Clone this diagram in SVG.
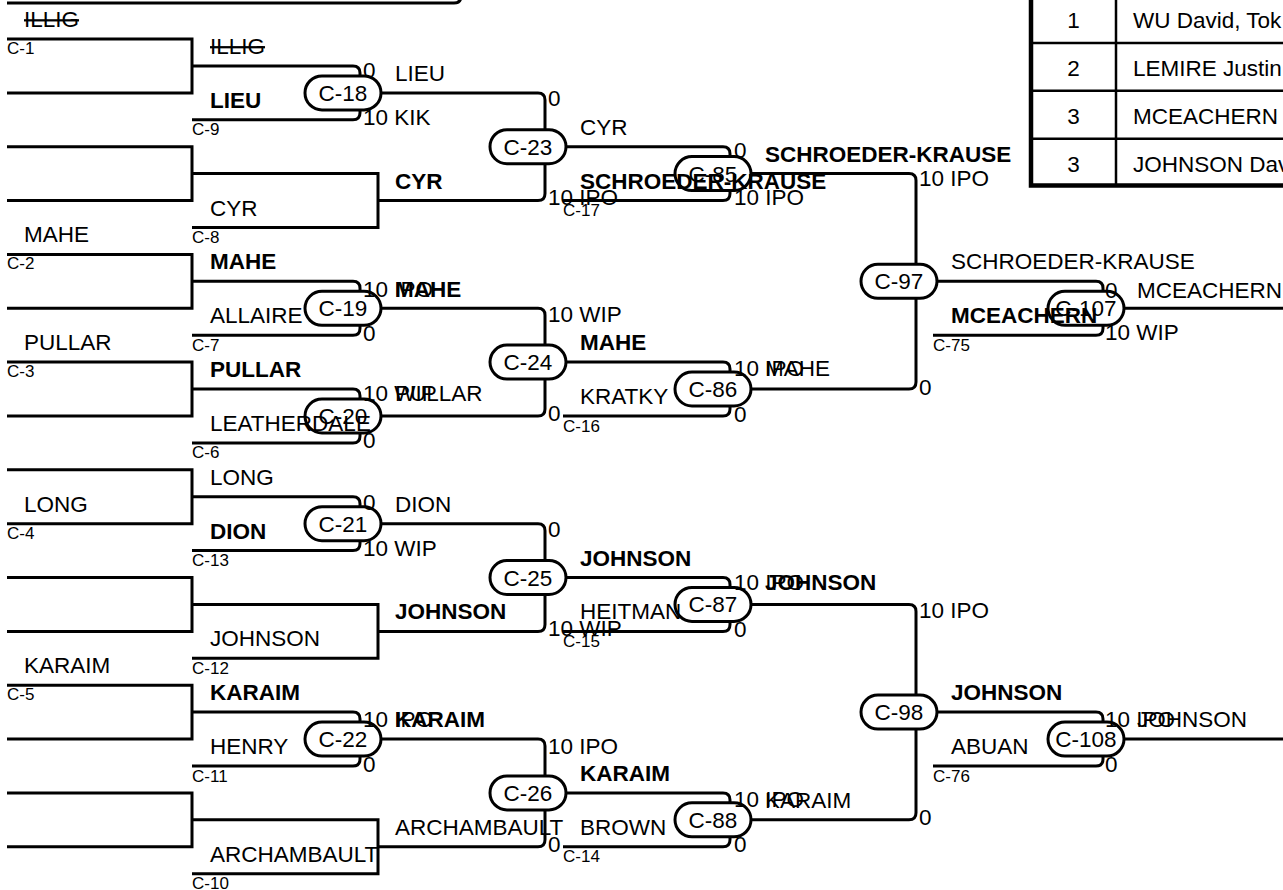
<svg xmlns="http://www.w3.org/2000/svg" width="1283" height="890" viewBox="0 0 1283 890">
<style>
.ln{fill:none;stroke:#000;stroke-width:3}
.tb{fill:none;stroke:#000;stroke-width:2.5}
.tbk{fill:none;stroke:#000;stroke-width:4.5}
.pill rect{fill:#fff;stroke:#000;stroke-width:3}
text{font-family:"Liberation Sans",Arial,sans-serif;font-size:22.5px;fill:#000}
.b{font-weight:bold}
.s{font-size:17px}
.m{text-anchor:middle}
.st{text-decoration:line-through}
</style>
<rect width="1283" height="890" fill="#fff"/>
<g id="connectors">
<path class="ln" d="M7,3 H454 Q461,3 461,-4 V-20"/>
<path class="ln" d="M7,39 H192 V92.9 H7"/>
<path class="ln" d="M7,146.7 H192 V200.6 H7"/>
<path class="ln" d="M7,254.4 H192 V308.3 H7"/>
<path class="ln" d="M7,362.1 H192 V416 H7"/>
<path class="ln" d="M7,469.8 H192 V523.7 H7"/>
<path class="ln" d="M7,577.5 H192 V631.4 H7"/>
<path class="ln" d="M7,685.2 H192 V739.1 H7"/>
<path class="ln" d="M7,792.9 H192 V846.8 H7"/>
<path class="ln" d="M192,65.9 H353 Q360,65.9 360,72.9 V112.8 Q360,119.8 353,119.8 H192"/>
<path class="ln" d="M192,173.6 H378 V227.5 H192"/>
<path class="ln" d="M192,281.3 H353 Q360,281.3 360,288.3 V328.2 Q360,335.2 353,335.2 H192"/>
<path class="ln" d="M192,389 H353 Q360,389 360,396 V435.9 Q360,442.9 353,442.9 H192"/>
<path class="ln" d="M192,496.7 H353 Q360,496.7 360,503.7 V543.6 Q360,550.6 353,550.6 H192"/>
<path class="ln" d="M192,604.4 H378 V658.3 H192"/>
<path class="ln" d="M192,712.1 H353 Q360,712.1 360,719.1 V759 Q360,766 353,766 H192"/>
<path class="ln" d="M192,819.8 H378 V873.7 H192"/>
<path class="ln" d="M360,92.9 H538 Q545,92.9 545,99.9 V193.6 Q545,200.6 538,200.6 H378"/>
<path class="ln" d="M360,308.3 H538 Q545,308.3 545,315.3 V409 Q545,416 538,416 H360"/>
<path class="ln" d="M360,523.7 H538 Q545,523.7 545,530.7 V624.4 Q545,631.4 538,631.4 H378"/>
<path class="ln" d="M360,739.1 H538 Q545,739.1 545,746.1 V839.8 Q545,846.8 538,846.8 H378"/>
<path class="ln" d="M545,146.7 H723 Q730,146.7 730,153.7 V193.6 Q730,200.6 723,200.6 H563"/>
<path class="ln" d="M545,362.1 H723 Q730,362.1 730,369.1 V409 Q730,416 723,416 H563"/>
<path class="ln" d="M545,577.5 H723 Q730,577.5 730,584.5 V624.4 Q730,631.4 723,631.4 H563"/>
<path class="ln" d="M545,792.9 H723 Q730,792.9 730,799.9 V839.8 Q730,846.8 723,846.8 H563"/>
<path class="ln" d="M730,173.6 H909 Q916,173.6 916,180.6 V382 Q916,389 909,389 H730"/>
<path class="ln" d="M730,604.4 H909 Q916,604.4 916,611.4 V812.8 Q916,819.8 909,819.8 H730"/>
<path class="ln" d="M916,281.3 H1096 Q1103,281.3 1103,288.3 V328.2 Q1103,335.2 1096,335.2 H933"/>
<path class="ln" d="M916,712.1 H1096 Q1103,712.1 1103,719.1 V759 Q1103,766 1096,766 H933"/>
<path class="ln" d="M1103,308.3 H1283"/>
<path class="ln" d="M1103,739.1 H1283"/>
</g>
<g id="C-18" class="pill"><rect x="305" y="75.9" width="76" height="34" rx="17"/><text class="m" x="343" y="100.9">C-18</text></g>
<g id="C-19" class="pill"><rect x="305" y="291.3" width="76" height="34" rx="17"/><text class="m" x="343" y="316.3">C-19</text></g>
<g id="C-20" class="pill"><rect x="305" y="399" width="76" height="34" rx="17"/><text class="m" x="343" y="424">C-20</text></g>
<g id="C-21" class="pill"><rect x="305" y="506.7" width="76" height="34" rx="17"/><text class="m" x="343" y="531.7">C-21</text></g>
<g id="C-22" class="pill"><rect x="305" y="722.1" width="76" height="34" rx="17"/><text class="m" x="343" y="747.1">C-22</text></g>
<g id="C-23" class="pill"><rect x="490" y="129.7" width="76" height="34" rx="17"/><text class="m" x="528" y="154.7">C-23</text></g>
<g id="C-24" class="pill"><rect x="490" y="345.1" width="76" height="34" rx="17"/><text class="m" x="528" y="370.1">C-24</text></g>
<g id="C-25" class="pill"><rect x="490" y="560.5" width="76" height="34" rx="17"/><text class="m" x="528" y="585.5">C-25</text></g>
<g id="C-26" class="pill"><rect x="490" y="775.9" width="76" height="34" rx="17"/><text class="m" x="528" y="800.9">C-26</text></g>
<g id="C-85" class="pill"><rect x="675" y="156.6" width="76" height="34" rx="17"/><text class="m" x="713" y="181.6">C-85</text></g>
<g id="C-86" class="pill"><rect x="675" y="372" width="76" height="34" rx="17"/><text class="m" x="713" y="397">C-86</text></g>
<g id="C-87" class="pill"><rect x="675" y="587.4" width="76" height="34" rx="17"/><text class="m" x="713" y="612.4">C-87</text></g>
<g id="C-88" class="pill"><rect x="675" y="802.8" width="76" height="34" rx="17"/><text class="m" x="713" y="827.8">C-88</text></g>
<g id="C-97" class="pill"><rect x="861" y="264.3" width="76" height="34" rx="17"/><text class="m" x="899" y="289.3">C-97</text></g>
<g id="C-98" class="pill"><rect x="861" y="695.1" width="76" height="34" rx="17"/><text class="m" x="899" y="720.1">C-98</text></g>
<g id="C-107" class="pill"><rect x="1048" y="291.3" width="76" height="34" rx="17"/><text class="m" x="1086" y="316.3">C-107</text></g>
<g id="C-108" class="pill"><rect x="1048" y="722.1" width="76" height="34" rx="17"/><text class="m" x="1086" y="747.1">C-108</text></g>
<g id="table">
<path class="tb" d="M1031,43 H1290 M1031,90.7 H1290 M1031,138.7 H1290 M1116,-10 V185.5"/>
<path class="tbk" d="M1031,-10 V185.5 H1290"/>
<text class="m" x="1073.5" y="27.5">1</text>
<text class="m" x="1073.5" y="76">2</text>
<text class="m" x="1073.5" y="124">3</text>
<text class="m" x="1073.5" y="171.5">3</text>
<text x="1133" y="27.5">WU David, Tok</text>
<text x="1133" y="76">LEMIRE Justin</text>
<text x="1133" y="124">MCEACHERN</text>
<text x="1133" y="171.5">JOHNSON Dav</text>
</g>
<g id="entrants">
<text class="st" x="24" y="27">ILLIG</text>
<text x="24" y="242.4">MAHE</text>
<text x="24" y="350.1">PULLAR</text>
<text x="24" y="511.7">LONG</text>
<text x="24" y="673.2">KARAIM</text>
<text class="s" x="7" y="54">C-1</text>
<text class="s" x="7" y="269.4">C-2</text>
<text class="s" x="7" y="377.1">C-3</text>
<text class="s" x="7" y="538.7">C-4</text>
<text class="s" x="7" y="700.2">C-5</text>
<text class="st" x="210" y="53.9">ILLIG</text>
<text class="b" x="210" y="107.8">LIEU</text>
<text x="210" y="215.5">CYR</text>
<text class="b" x="210" y="269.3">MAHE</text>
<text x="210" y="323.2">ALLAIRE</text>
<text class="b" x="210" y="377">PULLAR</text>
<text x="210" y="430.9">LEATHERDALE</text>
<text x="210" y="484.7">LONG</text>
<text class="b" x="210" y="538.6">DION</text>
<text x="210" y="646.3">JOHNSON</text>
<text class="b" x="210" y="700.1">KARAIM</text>
<text x="210" y="754">HENRY</text>
<text x="210" y="861.7">ARCHAMBAULT</text>
<text class="s" x="192" y="135.3">C-9</text>
<text class="s" x="192" y="243">C-8</text>
<text class="s" x="192" y="350.7">C-7</text>
<text class="s" x="192" y="458.4">C-6</text>
<text class="s" x="192" y="566.1">C-13</text>
<text class="s" x="192" y="673.8">C-12</text>
<text class="s" x="192" y="781.5">C-11</text>
<text class="s" x="192" y="888.5">C-10</text>
<text x="395" y="80.9">LIEU</text>
<text class="b" x="395" y="188.6">CYR</text>
<text class="b" x="395" y="297">MAHE</text>
<text x="395" y="401">PULLAR</text>
<text x="395" y="511.7">DION</text>
<text class="b" x="395" y="619.4">JOHNSON</text>
<text class="b" x="395" y="727">KARAIM</text>
<text x="395" y="834.8">ARCHAMBAULT</text>
<text x="580" y="134.7">CYR</text>
<text class="b" x="580" y="188.6">SCHROEDER-KRAUSE</text>
<text class="b" x="580" y="350.1">MAHE</text>
<text x="580" y="404">KRATKY</text>
<text class="b" x="580" y="565.5">JOHNSON</text>
<text x="580" y="619.4">HEITMAN</text>
<text class="b" x="580" y="780.9">KARAIM</text>
<text x="580" y="834.8">BROWN</text>
<text class="s" x="563" y="216">C-17</text>
<text class="s" x="563" y="431.5">C-16</text>
<text class="s" x="563" y="646.9">C-15</text>
<text class="s" x="563" y="862.3">C-14</text>
<text class="b" x="765" y="161.6">SCHROEDER-KRAUSE</text>
<text x="765" y="376">MAHE</text>
<text class="b" x="765" y="590">JOHNSON</text>
<text x="765" y="808">KARAIM</text>
<text x="951" y="269.3">SCHROEDER-KRAUSE</text>
<text class="b" x="951" y="323.2">MCEACHERN</text>
<text class="b" x="951" y="700.1">JOHNSON</text>
<text x="951" y="754">ABUAN</text>
<text class="s" x="933" y="350.7">C-75</text>
<text class="s" x="933" y="781.5">C-76</text>
<text x="1137" y="298">MCEACHERN</text>
<text x="1137" y="727">JOHNSON</text>
</g>
<g id="scores">
<text x="363" y="78">0</text><text x="363" y="125">10 KIK</text>
<text x="363" y="297">10 IPO</text><text x="363" y="341">0</text>
<text x="363" y="401">10 WIP</text><text x="363" y="448">0</text>
<text x="363" y="510">0</text><text x="363" y="556">10 WIP</text>
<text x="363" y="727">10 IPO</text><text x="363" y="772">0</text>
<text x="548" y="106">0</text><text x="548" y="205">10 IPO</text>
<text x="548" y="322">10 WIP</text><text x="548" y="421">0</text>
<text x="548" y="537">0</text><text x="548" y="636">10 WIP</text>
<text x="548" y="754">10 IPO</text><text x="548" y="852">0</text>
<text x="734" y="158">0</text><text x="734" y="205">10 IPO</text>
<text x="734" y="376">10 IPO</text><text x="734" y="422">0</text>
<text x="734" y="590">10 IPO</text><text x="734" y="637">0</text>
<text x="734" y="807">10 IPO</text><text x="734" y="852">0</text>
<text x="919" y="186">10 IPO</text><text x="919" y="395">0</text>
<text x="919" y="618">10 IPO</text><text x="919" y="825">0</text>
<text x="1105" y="298">0</text><text x="1105" y="340">10 WIP</text>
<text x="1105" y="727">10 IPO</text><text x="1105" y="772">0</text>
</g>
</svg>
